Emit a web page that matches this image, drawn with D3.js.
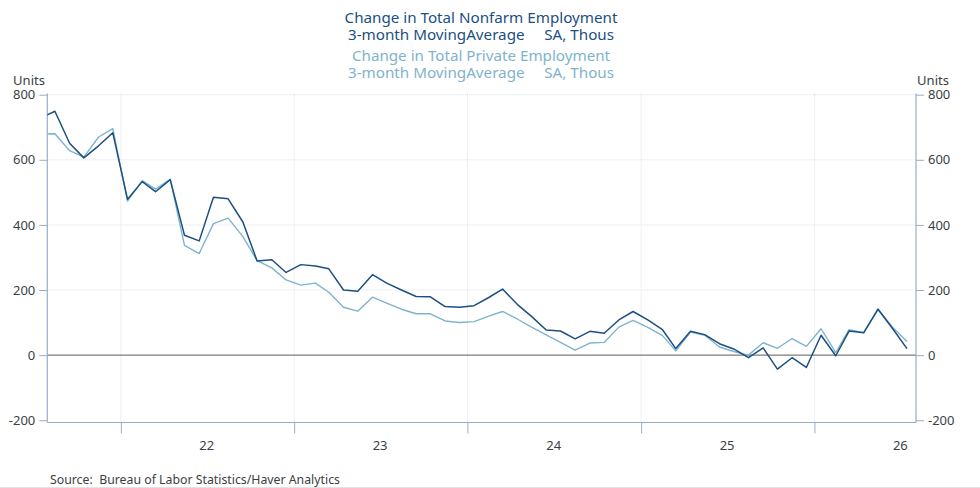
<!DOCTYPE html>
<html>
<head>
<meta charset="utf-8">
<script src="https://cdn.jsdelivr.net/npm/d3@7"></script>
<style>
  html, body { margin: 0; padding: 0; background: #fff; }
  svg { display: block; font-family: "Noto Sans", "Open Sans", sans-serif; }
  text { white-space: pre; }
</style>
</head>
<body>
<svg id="chart" width="980" height="488"></svg>
<script>
// ---- Data (3-month moving average, SA, thousands) ----
const months = [
  "2021-07","2021-08","2021-09","2021-10","2021-11","2021-12",
  "2022-01","2022-02","2022-03","2022-04","2022-05","2022-06","2022-07","2022-08","2022-09","2022-10","2022-11","2022-12",
  "2023-01","2023-02","2023-03","2023-04","2023-05","2023-06","2023-07","2023-08","2023-09","2023-10","2023-11","2023-12",
  "2024-01","2024-02","2024-03","2024-04","2024-05","2024-06","2024-07","2024-08","2024-09","2024-10","2024-11","2024-12",
  "2025-01","2025-02","2025-03","2025-04","2025-05","2025-06","2025-07","2025-08","2025-09","2025-10","2025-11","2025-12",
  "2026-01","2026-02","2026-03","2026-04","2026-05","2026-06","2026-07"
];
const nonfarm = [
  728, 749, 651, 606, 643, 683,
  479, 533, 502, 539, 368, 351, 485, 480, 409, 289, 293, 254,
  278, 274, 265, 200, 196, 247, 221, 200, 180, 179, 149, 147,
  152, 177, 203, 156, 119, 77, 74, 50, 73, 67, 108, 134,
  108, 78, 20, 73, 63, 35, 19, -8, 22, -43, -8, -38,
  61, -2, 74, 69, 141, 81, 20
];
const privateEmp = [
  679, 680, 628, 608, 670, 696,
  473, 536, 510, 540, 337, 312, 404, 421, 364, 290, 268, 231,
  215, 221, 193, 147, 135, 178, 160, 141, 127, 127, 105, 100,
  103, 120, 134, 111, 86, 62, 39, 15, 37, 39, 86, 107,
  85, 60, 13, 71, 61, 25, 11, 0, 38, 21, 51, 27,
  81, 8, 78, 69, 141, 85, 42
];
const yTicks = [-200, 0, 200, 400, 600, 800];
const yearTicks = ["2022-01-01","2023-01-01","2024-01-01","2025-01-01","2026-01-01"];
const yearLabels = ["22","23","24","25","26"];
const titleLines = [
  "Change in Total Nonfarm Employment",
  "3-month MovingAverage     SA, Thous",
  "Change in Total Private Employment",
  "3-month MovingAverage     SA, Thous"
];
const sourceText = "Source:  Bureau of Labor Statistics/Haver Analytics";

// ---- Layout ----
const pL = 47.3, pR = 916, pT = 93.4, pB = 422.5;
const darkBlue = "#1c4f82", lightBlue = "#7fb3cd";
const axisColor = "#9aaec3", gridColor = "#dadfe4", textColor = "#3a3f45";

const svg = d3.select("#chart");
const parseM = d3.timeParse("%Y-%m");
const parseD = d3.timeParse("%Y-%m-%d");
const dates = months.map(m => d3.timeDay.offset(parseM(m), 14));

const x = d3.scaleTime()
  .domain([parseD("2021-07-30"), parseD("2026-08-03")])
  .range([pL, pR]);
const y = d3.scaleLinear().domain([-207, 804]).range([pB, pT]);

// Titles
const titleColors = [darkBlue, darkBlue, lightBlue, lightBlue];
const titleY = [17, 34, 55, 72];
svg.append("g").selectAll("text").data(titleLines).join("text")
  .attr("x", 481).attr("y", (d, i) => titleY[i])
  .attr("text-anchor", "middle").attr("dominant-baseline", "central")
  .attr("font-size", 15.2).attr("fill", (d, i) => titleColors[i])
  .text(d => d);

// Clip
svg.append("clipPath").attr("id", "plot")
  .append("rect").attr("x", pL).attr("y", pT).attr("width", pR - pL).attr("height", pB - pT);

// Gridlines horizontal
const gGrid = svg.append("g");
gGrid.selectAll("line.h").data(yTicks.filter(v => v !== 0 && v !== -200)).join("line")
  .attr("class", "h")
  .attr("x1", pL).attr("x2", pR)
  .attr("y1", d => y(d)).attr("y2", d => y(d))
  .attr("stroke", gridColor).attr("stroke-width", 1).attr("stroke-dasharray", "1,1");
// Gridlines vertical
gGrid.selectAll("line.v").data(yearTicks).join("line")
  .attr("class", "v")
  .attr("x1", d => x(parseD(d))).attr("x2", d => x(parseD(d)))
  .attr("y1", pT).attr("y2", pB)
  .attr("stroke", gridColor).attr("stroke-width", 1).attr("stroke-dasharray", "1,1");

// Zero line
svg.append("line")
  .attr("x1", pL).attr("x2", pR).attr("y1", y(0)).attr("y2", y(0))
  .attr("stroke", "#5a5a5a").attr("stroke-width", 1);

// Axes
const fmt = d => String(d);
const yAxisL = d3.axisLeft(y).tickValues(yTicks).tickSize(8).tickPadding(4).tickFormat(fmt);
const yAxisR = d3.axisRight(y).tickValues(yTicks).tickSize(8).tickPadding(4).tickFormat(fmt);
function styleAxis(g) {
  g.select(".domain").remove();
  g.selectAll(".tick line").attr("stroke", axisColor);
  g.selectAll(".tick text").attr("fill", textColor).attr("font-size", 13)
    .attr("font-family", "Noto Sans, Open Sans, sans-serif");
}
svg.append("g").attr("transform", `translate(${pL},0)`).call(yAxisL).call(styleAxis);
svg.append("g").attr("transform", `translate(${pR},0)`).call(yAxisR).call(styleAxis);

// Frame lines (left, right, bottom)
svg.append("line").attr("x1", pL).attr("x2", pL).attr("y1", pT).attr("y2", pB)
  .attr("stroke", axisColor).attr("stroke-width", 1.2);
svg.append("line").attr("x1", pR).attr("x2", pR).attr("y1", pT).attr("y2", pB)
  .attr("stroke", axisColor).attr("stroke-width", 1.2);
svg.append("line").attr("x1", pL).attr("x2", pR).attr("y1", pB).attr("y2", pB)
  .attr("stroke", axisColor).attr("stroke-width", 1.2);

// X axis: year boundary ticks, labels at mid-year
const xAxis = d3.axisBottom(x).tickValues(yearTicks.map(parseD)).tickSize(11).tickFormat("");
svg.append("g").attr("transform", `translate(0,${pB})`).call(xAxis)
  .call(g => { g.select(".domain").remove(); g.selectAll(".tick line").attr("stroke", axisColor); });
svg.append("g").selectAll("text").data(yearLabels).join("text")
  .attr("x", d => x(parseD("20" + d + "-07-01")))
  .attr("y", 445).attr("text-anchor", "middle").attr("dominant-baseline", "central")
  .attr("font-size", 13).attr("fill", textColor).text(d => d);

// Units labels
svg.append("text").attr("x", 29).attr("y", 79.5).attr("text-anchor", "middle")
  .attr("dominant-baseline", "central").attr("font-size", 13).attr("fill", textColor).text("Units");
svg.append("text").attr("x", 933).attr("y", 79.5).attr("text-anchor", "middle")
  .attr("dominant-baseline", "central").attr("font-size", 13).attr("fill", textColor).text("Units");

// Lines
const line = d3.line().x((d, i) => x(dates[i])).y(d => y(d));
const gLines = svg.append("g").attr("clip-path", "url(#plot)");
gLines.append("path").datum(privateEmp).attr("d", line)
  .attr("fill", "none").attr("stroke", lightBlue).attr("stroke-width", 1.4).attr("stroke-linejoin", "round");
gLines.append("path").datum(nonfarm).attr("d", line)
  .attr("fill", "none").attr("stroke", darkBlue).attr("stroke-width", 1.5).attr("stroke-linejoin", "round");

// Source
svg.append("text").attr("x", 50).attr("y", 479).attr("dominant-baseline", "central")
  .attr("font-size", 12.3).attr("fill", textColor).text(sourceText);

// Bottom border
svg.append("line").attr("x1", 0).attr("x2", 980).attr("y1", 487.5).attr("y2", 487.5)
  .attr("stroke", "#e3e3e3").attr("stroke-width", 1);
</script>
</body>
</html>
